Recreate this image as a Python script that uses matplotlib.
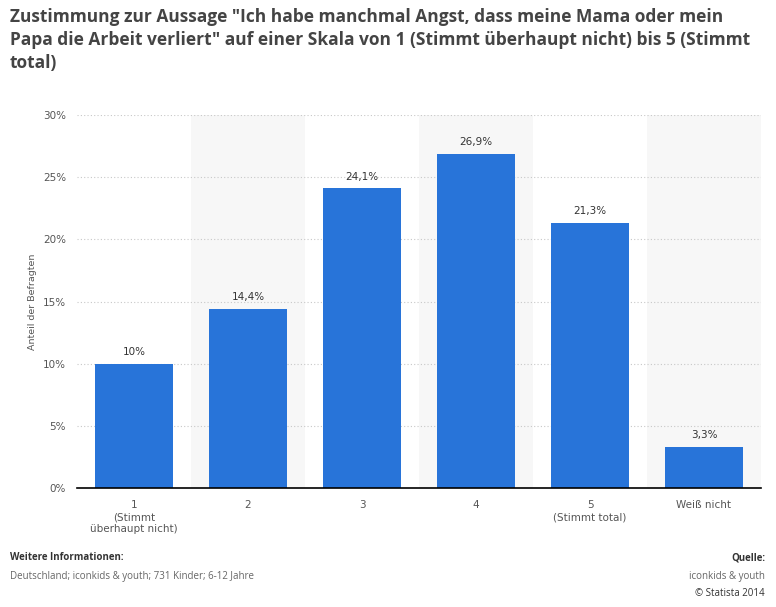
import matplotlib.pyplot as plt
import numpy as np

# data
categories = ['1\n(Stimmt\nüberhaupt nicht)', '2', '3', '4', '5\n(Stimmt total)', 'Weiß nicht']
values = [10, 14.4, 24.1, 26.9, 21.3, 3.3]
value_labels = ['10%', '14,4%', '24,1%', '26,9%', '21,3%', '3,3%']
yticks = [0, 5, 10, 15, 20, 25, 30]

plt.rcParams['font.family'] = ['DejaVu Sans']
foot = ['Open Sans', 'DejaVu Sans']

fig = plt.figure(figsize=(7.76, 6.07), dpi=100)
ax = fig.add_axes([77/776, 1-488/607, 684/776, 373/607])

x = np.arange(len(values))
# alternating background bands
for i in x:
    if i % 2 == 1:
        ax.axvspan(i-0.5, i+0.5, color='#f7f7f7', zorder=0, lw=0)

ax.bar(x, values, width=0.684, color='#2874d9', zorder=3)
for xi, v, lab in zip(x, values, value_labels):
    ax.text(xi, v+0.55, lab, ha='center', va='bottom', fontsize=7.5, color='#333333', zorder=4)

ax.set_xlim(-0.5, 5.5)
ax.set_ylim(0, 30)
ax.set_yticks(yticks)
ax.set_yticklabels([f'{t}%' for t in yticks], fontsize=7.5, color='#555555')
ax.set_xticks(x)
ax.set_xticklabels(categories, fontsize=7.5, color='#555555', linespacing=1.25)
ax.tick_params(axis='y', length=0, pad=8)
ax.tick_params(axis='x', length=0, pad=9)
ax.yaxis.grid(True, linestyle=(0, (1, 2)), color='#c8c8c8', lw=0.8, zorder=1)
for s in ['top', 'right', 'left']:
    ax.spines[s].set_visible(False)
ax.spines['bottom'].set_color('#000000')
ax.spines['bottom'].set_linewidth(1.2)
ax.spines['bottom'].set_zorder(5)
ax.set_ylabel('Anteil der Befragten', fontsize=6.8, color='#555555', labelpad=4)

fig.text(10/776, 1-8/607,
         'Zustimmung zur Aussage "Ich habe manchmal Angst, dass meine Mama oder mein\n'
         'Papa die Arbeit verliert" auf einer Skala von 1 (Stimmt überhaupt nicht) bis 5 (Stimmt\n'
         'total)',
         ha='left', va='top', fontsize=12.5, fontweight='bold', color='#444444',
         linespacing=1.35, family=['Open Sans', 'DejaVu Sans'])

fig.text(10/776, 1-558/607, 'Weitere Informationen:', ha='left', va='center',
         fontsize=7, fontweight='bold', color='#333333', family=foot)
fig.text(10/776, 1-577/607, 'Deutschland; iconkids & youth; 731 Kinder; 6-12 Jahre', ha='left',
         va='center', fontsize=7, color='#666666', family=foot)
fig.text(765/776, 1-558/607, 'Quelle:', ha='right', va='center',
         fontsize=7, fontweight='bold', color='#333333', family=foot)
fig.text(765/776, 1-577/607, 'iconkids & youth', ha='right', va='center', fontsize=7,
         color='#666666', family=foot)
fig.text(765/776, 1-594/607, '© Statista 2014', ha='right', va='center', fontsize=7,
         color='#333333', family=foot)

fig.savefig('out.png', dpi=100)
